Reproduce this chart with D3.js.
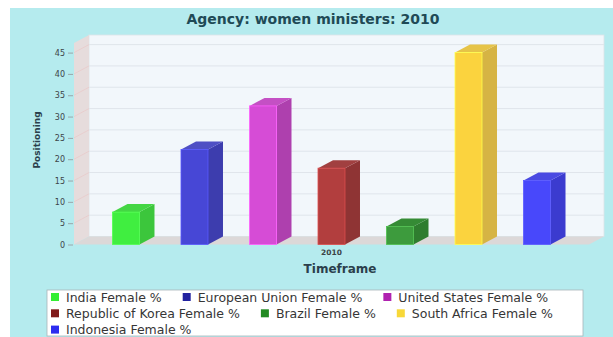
<!DOCTYPE html>
<html>
<head>
<meta charset="utf-8">
<script src="https://cdn.jsdelivr.net/npm/d3@7"></script>
<style>
  html, body { margin: 0; padding: 0; background: #ffffff; }
  svg { display: block; font-family: "DejaVu Sans", Verdana, sans-serif; }
</style>
</head>
<body>
<svg id="chart" width="613" height="337"></svg>
<script>
// Women ministers share, 2010, one bar per country / region
const categories = ["2010"];
const seriesNames = [
  "India Female %",
  "European Union Female %",
  "United States Female %",
  "Republic of Korea  Female %",
  "Brazil Female %",
  "South Africa Female %",
  "Indonesia Female %"
];
const seriesValues = [7.6, 22.3, 32.5, 17.9, 4.2, 45, 15];
const yTickValues = [0, 5, 10, 15, 20, 25, 30, 35, 40, 45];

// palette: bar front faces, side faces, top faces, legend swatches
const frontColors = ["#40ee40", "#4747d6", "#d64cd6", "#b23e3e", "#3d9b3d", "#fbd33e", "#4848fb"];
const sideColors  = ["#3cc63c", "#3d3dae", "#ae40ae", "#8f3434", "#2f7d2f", "#d6b444", "#3b3bcf"];
const topColors   = ["#44d644", "#4f4fc4", "#c450c4", "#a14040", "#358b35", "#e6c448", "#4a4ae2"];
const swatchColors = ["#33ee33", "#2222a0", "#b022b0", "#801a1a", "#228a22", "#f8d838", "#2c2cf0"];

const svg = d3.select("#chart");

// frame geometry
const depthX = 15, depthY = 8;
const frontLeft = 74, frontRight = 589;
const frontBottom = 244.5, frontTop = 43;

// background panel
svg.append("rect").attr("x", 10).attr("y", 8).attr("width", 603).attr("height", 329)
  .attr("fill", "#b5ebee");

// scales
const y = d3.scaleLinear().domain([0, 47.25]).range([frontBottom, frontTop]);
const xCat = d3.scaleBand().domain(categories).range([frontLeft, frontRight]);
const xSeries = d3.scaleBand().domain(seriesNames).range([frontLeft, frontRight])
  .paddingInner(0.606).paddingOuter(0.562);

// back wall
svg.append("rect")
  .attr("x", frontLeft + depthX).attr("y", frontTop - depthY)
  .attr("width", frontRight - frontLeft).attr("height", frontBottom - frontTop)
  .attr("fill", "#f2f7fb").attr("stroke", "#dde3e8").attr("stroke-width", 0.8);

// left wall
svg.append("path")
  .attr("d", `M${frontLeft},${frontTop} L${frontLeft + depthX},${frontTop - depthY} L${frontLeft + depthX},${frontBottom - depthY} L${frontLeft},${frontBottom} Z`)
  .attr("fill", "#e6dcdc");

// floor
svg.append("path")
  .attr("d", `M${frontLeft},${frontBottom} L${frontLeft + depthX},${frontBottom - depthY} L${frontRight + depthX},${frontBottom - depthY} L${frontRight},${frontBottom} Z`)
  .attr("fill", "#dcd8d8");

// gridlines on back wall and their traces across the left wall
const grid = svg.append("g");
grid.selectAll("line.back").data(yTickValues.filter(v => v > 0)).join("line")
  .attr("class", "back")
  .attr("x1", frontLeft + depthX).attr("x2", frontRight + depthX)
  .attr("y1", d => y(d) - depthY).attr("y2", d => y(d) - depthY)
  .attr("stroke", "#dfe5eb").attr("stroke-width", 1);
grid.selectAll("line.side").data(yTickValues.filter(v => v > 0)).join("line")
  .attr("class", "side")
  .attr("x1", frontLeft).attr("x2", frontLeft + depthX)
  .attr("y1", d => y(d)).attr("y2", d => y(d) - depthY)
  .attr("stroke", "#e9caca").attr("stroke-width", 0.8);

// y axis
const yAxis = svg.append("g").attr("transform", `translate(${frontLeft - 1},0)`)
  .call(d3.axisLeft(y).tickValues(yTickValues).tickSize(5).tickPadding(3));
yAxis.select(".domain").remove();
yAxis.selectAll(".tick line").attr("stroke", "#9aa6aa");
yAxis.selectAll(".tick text").attr("fill", "#3c4448").attr("font-size", 8)
  .attr("font-family", "DejaVu Sans, sans-serif");

// x axis (category)
const xAxis = svg.append("g").attr("transform", `translate(0,${frontBottom})`)
  .call(d3.axisBottom(xCat).tickSize(0).tickPadding(5));
xAxis.select(".domain").remove();
xAxis.selectAll(".tick text").attr("fill", "#3c4448").attr("font-size", 7.5)
  .attr("font-weight", "bold").attr("font-family", "DejaVu Sans, sans-serif");

// 3D bars
const bw = xSeries.bandwidth();
const bars = svg.append("g").selectAll("g").data(seriesValues).join("g");
bars.append("path") // side face
  .attr("d", (d, i) => {
    const x0 = xSeries(seriesNames[i]) + bw, yt = y(d), yb = y(0);
    return `M${x0},${yt} L${x0 + depthX},${yt - depthY} L${x0 + depthX},${yb - depthY} L${x0},${yb} Z`;
  })
  .attr("fill", (d, i) => sideColors[i]);
bars.append("path") // top face
  .attr("d", (d, i) => {
    const x0 = xSeries(seriesNames[i]), yt = y(d);
    return `M${x0},${yt} L${x0 + depthX},${yt - depthY} L${x0 + bw + depthX},${yt - depthY} L${x0 + bw},${yt} Z`;
  })
  .attr("fill", (d, i) => topColors[i]);
bars.append("rect") // front face
  .attr("x", (d, i) => xSeries(seriesNames[i]))
  .attr("y", d => y(d))
  .attr("width", bw)
  .attr("height", d => y(0) - y(d))
  .attr("fill", (d, i) => frontColors[i])
  .attr("stroke", (d, i) => d3.color(frontColors[i]).brighter(0.6))
  .attr("stroke-width", 0.8);

// title
svg.append("text").attr("x", 313).attr("y", 24).attr("text-anchor", "middle")
  .attr("font-size", 14).attr("font-weight", "bold").attr("fill", "#1f4a56")
  .text("Agency: women ministers: 2010");

// axis titles
svg.append("text").attr("transform", "translate(40,140) rotate(-90)")
  .attr("text-anchor", "middle").attr("font-size", 9).attr("font-weight", "bold")
  .attr("fill", "#2b3f4c").text("Positioning");
svg.append("text").attr("x", 340).attr("y", 273).attr("text-anchor", "middle")
  .attr("font-size", 12).attr("font-weight", "bold").attr("fill", "#2b3f4c")
  .text("Timeframe");

// legend
const legendBox = { x: 47, y: 290, w: 536, h: 46 };
svg.append("rect").attr("x", legendBox.x).attr("y", legendBox.y)
  .attr("width", legendBox.w).attr("height", legendBox.h)
  .attr("fill", "#ffffff").attr("stroke", "#a9b4b8").attr("stroke-width", 0.8);

const legend = svg.append("g");
const rowH = 16.3, startX = 51, firstRowY = 297;
let lx = startX, row = 0;
seriesNames.forEach((name, i) => {
  const t = legend.append("text").attr("font-size", 12.5).attr("fill", "#363636")
    .attr("dominant-baseline", "central").text(name);
  const tw = t.node().getComputedTextLength();
  const itemW = 8 + 7 + tw;
  if (lx + itemW > legendBox.x + legendBox.w - 4) { lx = startX; row += 1; }
  const cy = firstRowY + row * rowH;
  legend.append("rect").attr("x", lx).attr("y", cy - 4).attr("width", 8).attr("height", 8)
    .attr("fill", swatchColors[i]);
  t.attr("x", lx + 15).attr("y", cy);
  lx += itemW + 21;
});
</script>
</body>
</html>
